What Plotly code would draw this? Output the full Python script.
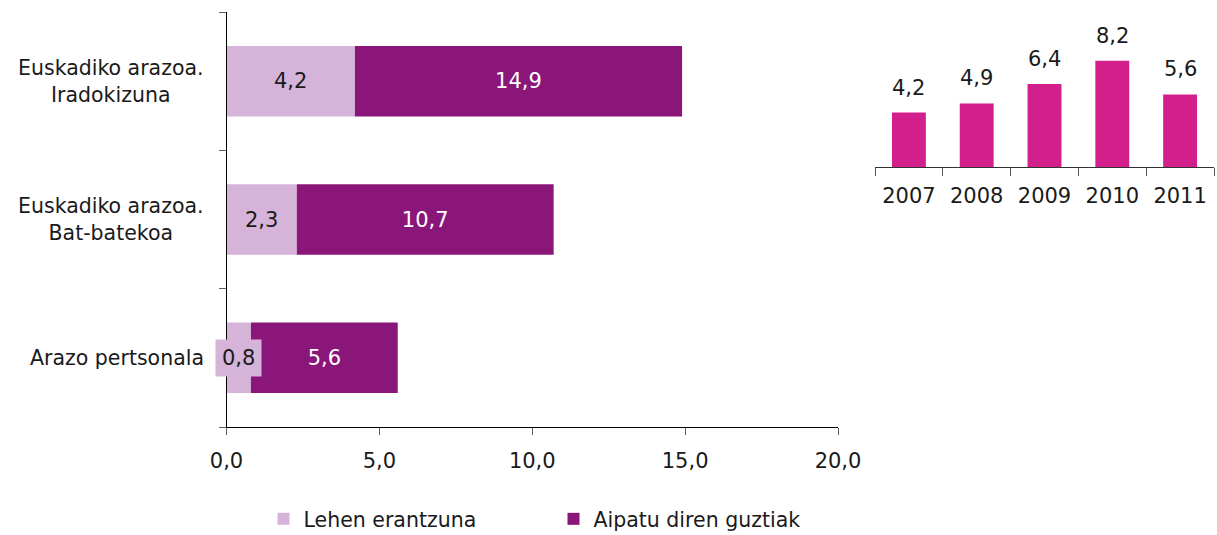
import plotly.graph_objects as go

# ---------------- data ----------------
categories = ["Arazo pertsonala", "Euskadiko arazoa.<br>Bat-batekoa", "Euskadiko arazoa.<br>Iradokizuna"]
lehen = [0.8, 2.3, 4.2]          # Lehen erantzuna
guztiak = [5.6, 10.7, 14.9]      # Aipatu diren guztiak
years = ["2007", "2008", "2009", "2010", "2011"]
year_vals = [4.2, 4.9, 6.4, 8.2, 5.6]
x_ticks = [0, 5, 10, 15, 20]

LIGHT = "#d6b3d9"
DARK = "#8b1679"
MAGENTA = "#d21f8c"
FONT = "DejaVu Sans"
TXT = "#1a1a1a"

W, H = 1217, 535


def fmt(v):
    return f"{v:.1f}".replace(".", ",")


fig = go.Figure()

# Light bars (first answer)
fig.add_trace(go.Bar(
    y=categories, x=lehen, orientation="h", name="Lehen erantzuna",
    marker=dict(color=LIGHT, line=dict(width=0)), width=0.51,
    xaxis="x", yaxis="y", hoverinfo="skip",
))
# Dark bars (all mentions) drawn from end of light bar to total
fig.add_trace(go.Bar(
    y=categories, x=[g - l for g, l in zip(guztiak, lehen)], base=lehen,
    orientation="h", name="Aipatu diren guztiak",
    marker=dict(color=DARK, line=dict(width=0)), width=0.51,
    text=[fmt(g) for g in guztiak], textposition="inside",
    insidetextanchor="middle", textangle=0,
    textfont=dict(family=FONT, size=21, color="white"),
    constraintext="none",
    xaxis="x", yaxis="y", hoverinfo="skip",
))

# Inset yearly bars
fig.add_trace(go.Bar(
    x=years, y=year_vals, marker=dict(color=MAGENTA, line=dict(width=0)),
    width=0.5, showlegend=False, xaxis="x2", yaxis="y2", hoverinfo="skip",
))

annotations = []
# light-bar labels (with background box, visible where the bar is too narrow)
for c, l in zip(categories, lehen):
    annotations.append(dict(
        x=l / 2, y=c, xref="x", yref="y", text=fmt(l), showarrow=False,
        font=dict(family=FONT, size=21, color=TXT), bgcolor=LIGHT,
        borderpad=6, xanchor="center", yanchor="middle",
    ))
# category labels, centred lines
for c in categories:
    annotations.append(dict(
        x=206 / W, y=c, xref="paper", yref="y", text=c, showarrow=False,
        font=dict(family=FONT, size=20.5, color=TXT), align="center",
        xanchor="right", yanchor="middle",
    ))
# inset value labels (x given as category index)
for i, v in enumerate(year_vals):
    annotations.append(dict(
        x=i, y=v, xref="x2", yref="y2", text=fmt(v), showarrow=False,
        font=dict(family=FONT, size=21, color=TXT),
        xanchor="center", yanchor="bottom", yshift=11,
    ))

fig.update_layout(
    width=W, height=H,
    margin=dict(l=0, r=0, t=0, b=0, autoexpand=False),
    paper_bgcolor="white", plot_bgcolor="white",
    font=dict(family=FONT, size=21, color=TXT),
    barmode="overlay",
    separators=",.",
    showlegend=True,
    legend=dict(
        orientation="h", x=263.5 / W, y=1 - 519 / H, xanchor="left", yanchor="middle",
        font=dict(family=FONT, size=20.5, color=TXT),
        entrywidth=245, entrywidthmode="pixels",
        traceorder="normal", bgcolor="rgba(0,0,0,0)",
    ),
    xaxis=dict(
        domain=[226.5 / W, 838 / W], range=[0, 20],
        tickvals=x_ticks, tickformat=".1f",
        showline=True, linecolor="black", linewidth=1,
        ticks="outside", ticklen=7, tickcolor="#606060",
        ticklabelstandoff=8,
        showgrid=False, zeroline=False, automargin=False,
        tickfont=dict(family=FONT, size=21, color=TXT),
        anchor="y", fixedrange=True,
    ),
    yaxis=dict(
        domain=[1 - 427 / H, 1 - 12 / H], range=[-0.5, 2.5],
        type="category", categoryorder="array", categoryarray=categories,
        showline=True, linecolor="black", linewidth=1,
        ticks="outside", ticklen=7, tickcolor="#606060", tickson="boundaries",
        showticklabels=False, showgrid=False, zeroline=False, automargin=False,
        anchor="x", fixedrange=True,
    ),
    xaxis2=dict(
        domain=[875 / W, 1214 / W], type="category", range=[-0.5, 4.5],
        categoryorder="array", categoryarray=years,
        showline=True, linecolor="#333333", linewidth=1,
        ticks="outside", ticklen=8, tickcolor="#555555", tickson="boundaries",
        ticklabelstandoff=10,
        showgrid=False, zeroline=False, automargin=False,
        tickfont=dict(family=FONT, size=21, color=TXT),
        anchor="y2", fixedrange=True,
    ),
    yaxis2=dict(
        domain=[1 - 167 / H, 1 - 37.4 / H], range=[0, 10],
        visible=False, showgrid=False, zeroline=False, showline=False,
        anchor="x2", fixedrange=True,
    ),
    annotations=annotations,
)

fig.write_html(
    "out.html",
    config={"displayModeBar": False, "staticPlot": True},
    post_script=(
        "document.documentElement.style.margin='0';"
        "document.documentElement.style.overflow='hidden';"
        "document.body.style.margin='0';document.body.style.padding='0';"
        "document.body.style.overflow='hidden';"
    ),
)
